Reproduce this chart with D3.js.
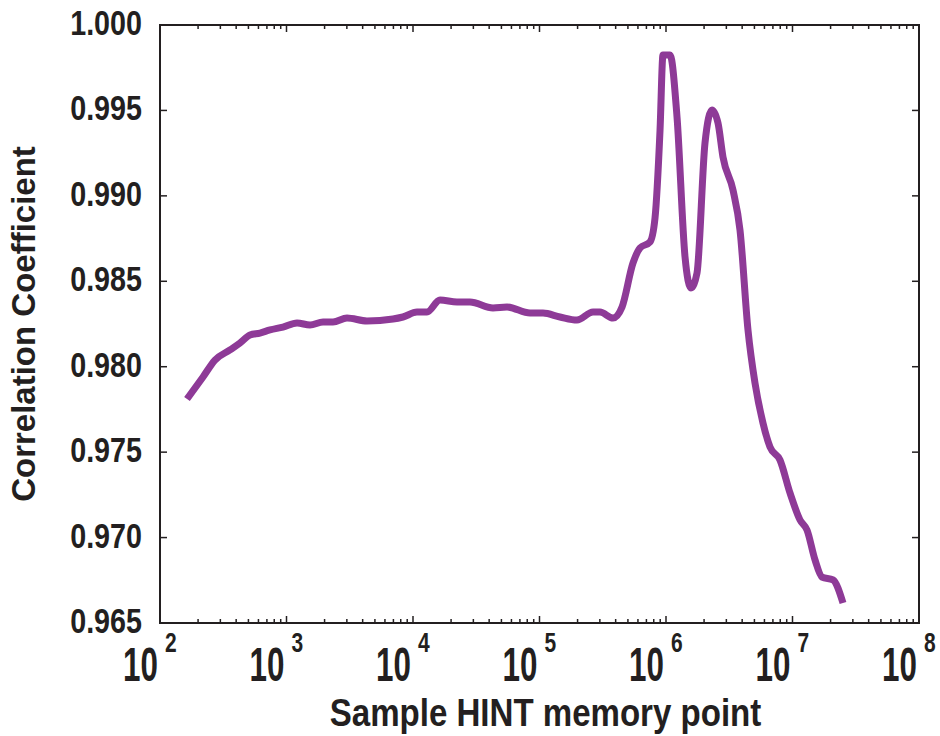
<!DOCTYPE html>
<html>
<head>
<meta charset="utf-8">
<script src="https://cdn.jsdelivr.net/npm/d3@7"></script>
<style>
  body { margin: 0; background: #fff; }
  text { font-family: "Liberation Sans", Arial, sans-serif; font-weight: bold; fill: #231f20; }
</style>
</head>
<body>
<div id="chart"></div>
<script>
// Data
var memPoints = [163.5, 218.8, 272, 357.5, 429, 514.6, 617, 740.5, 938, 1211, 1534, 1944, 2331, 3008, 4329,
  6949, 8336, 10755, 12900, 16350, 22270, 28220, 42900, 55370, 84130, 106600, 145200, 197900, 264800,
  300800, 381000, 449000, 548400, 623000, 747000, 818500, 897000, 946800, 1076000, 1222000, 1414000,
  1576000, 1758000, 2033000, 2310000, 2577000, 2822000, 3385000, 3846000, 4448000, 5052000, 5846000,
  6640000, 7963000, 9554000, 11470000, 13020000, 15070000, 17110000, 20900000, 25070000];
var corrCoef = [0.97811, 0.97940, 0.98039, 0.98098, 0.98139, 0.98186, 0.98197, 0.98215, 0.98232, 0.98256,
  0.98244, 0.98262, 0.98262, 0.98285, 0.98268, 0.98279, 0.98291, 0.98320, 0.98320, 0.98390, 0.98379,
  0.98379, 0.98344, 0.98349, 0.98314, 0.98314, 0.98291, 0.98273, 0.98320, 0.98320, 0.98285, 0.98349,
  0.98607, 0.98695, 0.98730, 0.98870, 0.99385, 0.99824, 0.99824, 0.99462, 0.98642, 0.98461, 0.98548,
  0.99309, 0.99503, 0.99426, 0.99227, 0.99034, 0.98800, 0.98215, 0.97905, 0.97670, 0.97530, 0.97454,
  0.97261, 0.97103, 0.97044, 0.96869, 0.96769, 0.96752, 0.96617];
var yTicks = [0.965, 0.970, 0.975, 0.980, 0.985, 0.990, 0.995, 1.000];
var xDecades = [2, 3, 4, 5, 6, 7, 8];

var W = 940, H = 736;
var margin = {left: 160, top: 25, right: 21, bottom: 113};
var width = W - margin.left - margin.right,
    height = H - margin.top - margin.bottom;
var ink = "#231f20";

var svg = d3.select("#chart").append("svg")
  .attr("width", W).attr("height", H)
  .append("g")
  .attr("transform", "translate(" + margin.left + "," + margin.top + ")");

var x = d3.scaleLog().domain([1e2, 1e8]).range([0, width]);
var y = d3.scaleLinear().domain([0.965, 1.000]).range([height, 0]);

// ticks: inside, on all four sides
var xt = x.ticks();
xt.forEach(function(v) {
  var major = Math.abs(Math.log10(v) - Math.round(Math.log10(v))) < 1e-9;
  var len = major ? 7 : 4;
  svg.append("line").attr("x1", x(v)).attr("x2", x(v)).attr("y1", height).attr("y2", height - len)
    .style("stroke", ink).style("stroke-width", 1.5);
  svg.append("line").attr("x1", x(v)).attr("x2", x(v)).attr("y1", 0).attr("y2", len)
    .style("stroke", ink).style("stroke-width", 1.5);
});
yTicks.forEach(function(v) {
  svg.append("line").attr("x1", 0).attr("x2", 7).attr("y1", y(v)).attr("y2", y(v))
    .style("stroke", ink).style("stroke-width", 1.5);
  svg.append("line").attr("x1", width).attr("x2", width - 7).attr("y1", y(v)).attr("y2", y(v))
    .style("stroke", ink).style("stroke-width", 1.5);
});

// frame
svg.append("rect").attr("x", 0).attr("y", 0).attr("width", width).attr("height", height)
  .style("fill", "none").style("stroke", ink).style("stroke-width", 2);

// y tick labels
yTicks.forEach(function(v) {
  svg.append("text")
    .attr("transform", "translate(-18," + (y(v) + 10) + ") scale(0.82,1)")
    .attr("text-anchor", "end")
    .style("font-size", "35px")
    .text(d3.format(".3f")(v));
});

// x tick labels 10^n
xDecades.forEach(function(n) {
  var px = x(Math.pow(10, n));
  svg.append("text")
    .attr("transform", "translate(" + (px - 2) + "," + (height + 58) + ") scale(0.64,1)")
    .attr("text-anchor", "end")
    .style("font-size", "49px")
    .text("10");
  svg.append("text")
    .attr("transform", "translate(" + (px + 5) + "," + (height + 29) + ") scale(0.75,1)")
    .style("font-size", "28px")
    .text(n);
});

// axis titles
svg.append("text")
  .attr("transform", "translate(" + (width / 2 + 6) + "," + (height + 103) + ") scale(0.87,1)")
  .attr("text-anchor", "middle")
  .style("font-size", "38px")
  .text("Sample HINT memory point");

svg.append("text")
  .attr("transform", "translate(" + (-125) + "," + y(0.9825) + ") rotate(-90)")
  .attr("text-anchor", "middle")
  .style("font-size", "33px")
  .text("Correlation Coefficient");

// the curve
var pts = memPoints.map(function(d, i) { return [d, corrCoef[i]]; });
var line = d3.line()
  .x(function(d) { return x(d[0]); })
  .y(function(d) { return y(d[1]); })
  .curve(d3.curveMonotoneX);

svg.append("path").datum(pts)
  .attr("d", line)
  .style("fill", "none")
  .style("stroke", "#8e3a97")
  .style("stroke-width", 7)
  .style("stroke-linejoin", "round");
</script>
</body>
</html>
